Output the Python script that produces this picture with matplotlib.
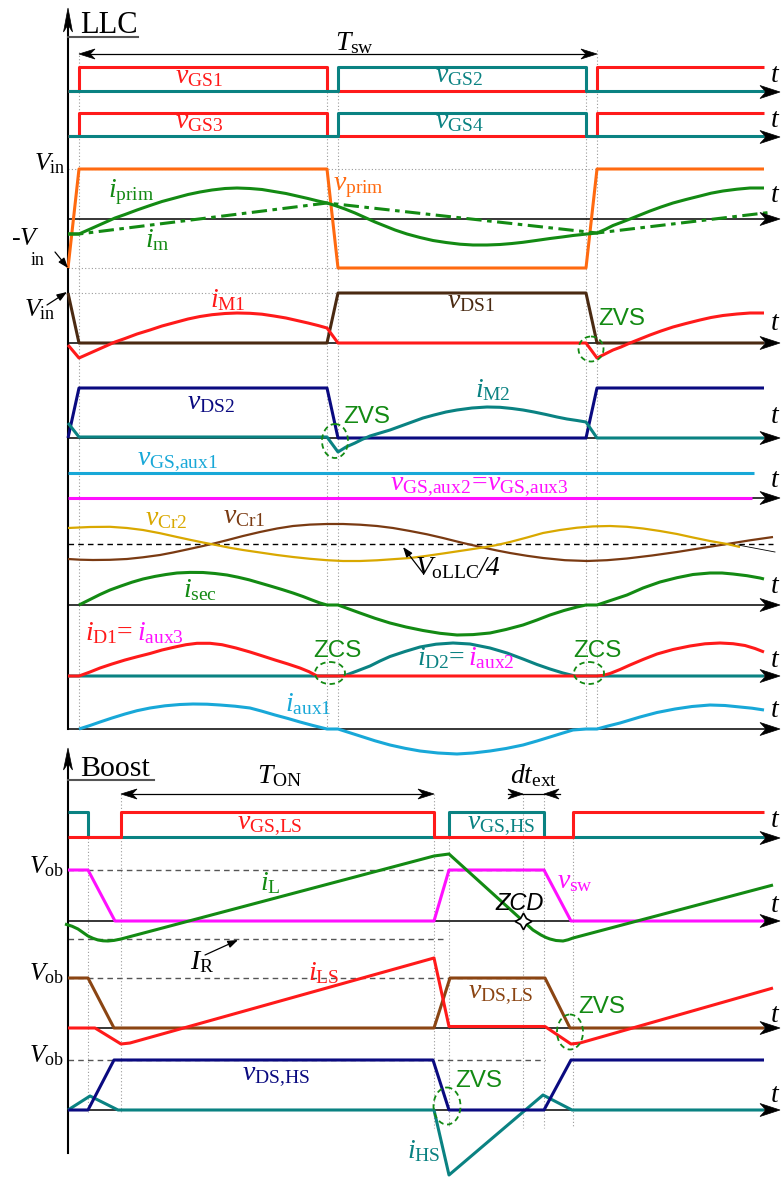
import matplotlib
matplotlib.use("Agg")
import matplotlib.pyplot as plt
from matplotlib.patches import Ellipse, Polygon

plt.rcParams["font.family"] = ["Liberation Serif", "DejaVu Serif"]
plt.rcParams["mathtext.fontset"] = "custom"
plt.rcParams["mathtext.rm"] = "Liberation Serif"
plt.rcParams["mathtext.it"] = "Liberation Serif:italic"
plt.rcParams["mathtext.bf"] = "Liberation Serif:bold"

# ---------------- colours ----------------
RED = "#ff1a1a"
TEAL = "#0a8282"
ORANGE = "#ff6a10"
GREEN = "#138a13"
DBROWN = "#4a2a12"
BROWN = "#8b4513"
CRBROWN = "#7a3a12"
NAVY = "#0a0a80"
CYAN = "#18a8d8"
MAGENTA = "#ff10ff"
GOLD = "#d9a800"

# ================= DATA (time, value above the panel's zero line) =================
# ---- LLC ----
vgs1_t = [68, 79, 79, 327, 327, 597, 597, 764]
vgs1_v = [1, 1, 25, 25, 1, 1, 25, 25]
vgs2_t = [68, 338, 338, 586, 586, 764]
vgs2_v = [1, 1, 25, 25, 1, 1]
vgs3_t = [68, 79, 79, 327, 327, 597, 597, 764]
vgs3_v = [1, 1, 24, 24, 1, 1, 24, 24]
vgs4_t = [68, 338, 338, 586, 586, 764]
vgs4_v = [1, 1, 24, 24, 1, 1]

vprim_t = [68, 79, 327, 338, 586, 597, 764]
vprim_v = [-49, 50, 50, -49, -49, 50, 50]
iprim_t = [68, 79, 88, 97, 106, 115, 125, 137, 150, 162, 175, 188, 200, 212, 225,
           237, 250, 262, 274, 286, 297, 308, 318, 327,
           335, 345, 355, 365, 375, 385, 395, 407, 420, 433, 446, 460, 473, 487,
           500, 512, 523, 536, 550, 562, 573, 585, 597,
           605, 613, 621, 630, 640, 650, 661, 673, 686, 700, 711, 723, 737, 750, 764]
iprim_v = [-15, -15, -11, -7, -3, 1, 4.5, 9, 13.5, 17.5, 21, 24.5, 27, 29, 30.5,
           31, 30.5, 29.5, 27.5, 25.5, 23, 20.5, 18, 16,
           13.5, 10, 6, 1.5, -3, -7, -11, -15, -18.5, -21.5, -23.5, -25.2, -26, -26,
           -25.5, -24.5, -23.3, -21.5, -19.5, -18, -16.5, -15.2, -14,
           -10.5, -6.5, -3.5, 0, 4, 8, 12, 16, 19.5, 23, 25.8, 28, 29.8, 31, 31]
im_t = [68, 79, 327, 597, 773]
im_v = [-15, -15, 16, -14, 7]

vds1_t = [68, 79, 327, 338, 586, 597, 764]
vds1_v = [50, 0, 0, 50, 50, 0, 0]
im1_t = [68, 79, 88, 97, 106, 115, 125, 137, 150, 162, 175, 188, 200, 212, 225,
         237, 250, 262, 274, 286, 297, 308, 318, 327, 338, 586, 597,
         605, 613, 621, 630, 640, 650, 661, 673, 686, 700, 711, 723, 737, 750, 764]
im1_v = [-2, -15, -11, -7, -3, 1, 4.5, 9, 13, 17, 20.5, 24, 26.5, 28.3, 29.5,
         30, 29.7, 28.8, 27, 25, 22.5, 20, 17.5, 15, 0, 0, -15,
         -11, -7, -4, 0, 4, 8, 12, 16, 19.5, 23, 25.5, 27.5, 29, 30, 30]

vds2_t = [68, 79, 327, 338, 586, 597, 764]
vds2_v = [0, 50, 50, 0, 0, 50, 50]
im2_t = [68, 79, 327, 338, 346, 355, 362, 370, 380, 390, 401, 412, 423, 434, 446,
         457, 472, 487, 500, 512, 523, 534, 546, 557, 567, 577, 586, 597, 764]
im2_v = [15, 1, 1, -14, -9, -5, -1.5, 2, 5, 8, 12, 16, 20, 23, 26,
         28, 30, 31, 30.7, 29.5, 28, 26, 23.5, 21, 19, 17.5, 16, 0, 0]

vgsaux1_t = [68, 754]
vgsaux1_v = [25, 25]
vgsaux23_t = [68, 752]
vgsaux23_v = [0, 0]

vcr2_t = [68, 90, 110, 127, 143, 160, 177, 190, 203, 217, 230, 243, 260, 277, 293,
          310, 327, 343, 360, 377, 393, 410, 427, 443, 463, 483, 497, 510, 527,
          543, 560, 577, 593, 610, 627, 643, 660, 677, 693, 710, 727, 740]
vcr2_v = [16, 17, 17.2, 16, 14, 10.8, 7, 4.2, 1.5, -1.2, -3.8, -6, -8.5, -11, -13,
          -14.8, -16.2, -17, -17, -16.3, -15.2, -14, -11.8, -9.5, -6.5, -3.5, -1, 2, 6.5,
          11, 14, 16.3, 17.6, 18, 17.2, 15.5, 13, 10, 6.5, 3, 0, -3]
vcr1_t = [68, 80, 93, 110, 127, 143, 160, 173, 187, 203, 215, 227, 243, 260, 277,
          293, 310, 327, 343, 360, 377, 393, 410, 427, 443, 463, 483, 497, 510,
          527, 543, 565, 587, 607, 627, 652, 677, 702, 727, 750, 773]
vcr1_v = [-15, -15.7, -16, -15.8, -15, -13.3, -11, -8.5, -5.5, -2, 0.8, 3.8, 8, 12, 15.5,
          18, 19.4, 20, 20, 19.3, 18, 16, 13, 9.7, 6, 1, -3.5, -6.5, -9,
          -11.8, -14, -16.2, -17, -16.2, -14.5, -11.5, -8, -4, 0, 3.7, 7]

isec_t = [79, 90, 100, 110, 121, 132, 143, 155, 166, 177, 190, 203, 215, 227, 238,
          249, 260, 271, 282, 293, 303, 312, 320, 327, 338, 349, 360, 375, 390,
          406, 423, 440, 457, 473, 490, 506, 523, 537, 550, 564, 577, 586, 597,
          612, 627, 643, 660, 677, 693, 710, 722, 733, 747, 760, 764]
isec_v = [0, 5.5, 10.5, 15, 19, 22.8, 26, 28.6, 30.5, 32, 32.6, 32.5, 31.5, 30, 27.8,
          25.2, 22, 18.8, 15.5, 12, 8.5, 5, 2, 0, 0, -4, -8, -13.3, -18,
          -22, -25.5, -28.3, -30, -29.6, -28, -24.5, -20, -15, -10, -5.5, -2, 0, 0,
          5, 10, 17, 23, 27.3, 30.5, 32, 32, 31, 29.3, 27, 26]

id1_t = [68, 79, 90, 100, 112, 125, 137, 150, 162, 175, 186, 197, 210, 222, 236,
         250, 262, 275, 288, 300, 309, 317, 597, 603, 610, 620, 630, 643, 657,
         673, 690, 705, 720, 733, 745, 755, 764]
id1_v = [0, 0, 4, 8, 12, 16, 19.2, 22.5, 26, 29, 31.3, 32.7, 32.7, 31.3, 28,
         24, 20.2, 16, 12, 8, 4.3, 0, 0, 0.6, 2.5, 6.5, 11, 16.5, 22,
         26.5, 30, 32.2, 33, 32.3, 30.5, 27.5, 24]
id2_t = [68, 338, 345, 357, 370, 380, 390, 405, 420, 436, 453, 470, 490, 507, 523,
         537, 550, 563, 575, 764]
id2_v = [0, 0, 0.5, 5, 10, 15, 19.5, 24.5, 29, 31.8, 33, 32, 28, 23, 17,
         11.5, 7, 3, 0, 0]

iaux1_t = [79, 90, 100, 112, 125, 137, 150, 165, 180, 193, 207, 220, 235, 250, 262,
           275, 288, 300, 313, 327, 338, 349, 360, 375, 390, 405, 420, 438, 457,
           473, 490, 506, 523, 537, 550, 562, 573, 586, 597, 608, 620, 630, 640,
           657, 675, 692, 710, 725, 740, 752, 764]
iaux1_v = [0, 3.5, 7, 11, 15, 18.3, 21, 23.2, 24.5, 25, 24.8, 24, 22.8, 21, 17.8,
           14, 10.5, 7, 3.5, 0, 0, -3.5, -7, -11.8, -16, -19.3, -22, -24, -25,
           -24, -22, -19.5, -16, -12, -8, -4.3, -1, 0, 0, 3, 6, 9, 12,
           16.5, 20, 22.5, 24, 23.5, 22, 20.8, 19]

# ---- Boost ----
vgsls_t = [68, 121, 121, 434, 434, 573, 573, 764]
vgsls_v = [1, 1, 26, 26, 1, 1, 26, 26]
vgshs_t = [68, 88, 88, 449, 449, 544, 544, 764]
vgshs_v = [26, 26, 1, 1, 26, 26, 1, 1]

vsw_t = [68, 88, 115, 434, 449, 544, 571, 764]
vsw_v = [51, 51, 0, 0, 51, 51, 0, 0]
il_t = [65, 72, 78, 83, 88, 93, 98, 103, 108, 114, 121, 434, 449, 523, 533, 541,
        546, 550, 556, 563, 568, 573, 773]
il_v = [-3, -5.2, -8, -11.5, -15, -17.3, -19, -19.8, -20, -19.4, -18, 65, 67, 0, -9, -14,
        -16.5, -18, -19.5, -20, -18.8, -17, 36]

vdsls_t = [68, 88, 114, 434, 450, 545, 570, 764]
vdsls_v = [50, 50, 0, 0, 50, 50, 0, 0]
ils_t = [68, 95, 121, 130, 434, 449, 545, 571, 580, 773]
ils_v = [0, 0, -16, -15, 70, 1.5, 1.5, -16, -15, 40]

vdshs_t = [68, 88, 114, 433, 449, 544, 571, 764]
vdshs_v = [0, 0, 50, 50, 0, 0, 50, 50]
ihs_t = [68, 90, 118, 434, 449, 543, 572, 764]
ihs_v = [0, 14, 0, 0, -65, 15, 0, 0]

# ================= LAYOUT =================
BASE = dict(g12=92, g34=137, prim=219, m1=343, m2=438, aux=498, cr=544,
            sec=605, d=676, aux1=729, bg=838, sw=921, ls=1028, hs=1110)

fig = plt.figure(figsize=(7.81, 11.78), dpi=100)
ax = fig.add_axes([0, 0, 1, 1])
ax.set_xlim(0, 781)
ax.set_ylim(1178, 0)
ax.axis("off")


def trace(t, v, base, color, lw=2.2, z=3, **kw):
    ax.plot(t, [base - x for x in v], color=color, lw=lw, zorder=z,
            solid_joinstyle="round", solid_capstyle="butt", **kw)


def head(tx, ty, dx, dy, L=20, W=6.5, color="k"):
    nx, ny = -dy, dx
    pts = [(tx, ty),
           (tx - L * dx + W * nx, ty - L * dy + W * ny),
           (tx - 0.7 * L * dx, ty - 0.7 * L * dy),
           (tx - L * dx - W * nx, ty - L * dy - W * ny)]
    ax.add_patch(Polygon(pts, closed=True, fc=color, ec=color, lw=0.5, zorder=6))


def haxis(y):
    ax.plot([68, 768], [y, y], color="k", lw=1.1, zorder=2)
    head(780, y, 1, 0)


def lab(x, y, s, color="k", size=20, ha="left", **kw):
    ax.text(x, y, s, color=color, fontsize=size, ha=ha, va="baseline", zorder=7, **kw)


dot = dict(color="#9a9a9a", lw=0.8, ls=(0, (1, 2)), zorder=1)
dash = dict(color="#555555", lw=1.0, ls=(0, (4, 3)), zorder=1)

# guides LLC
for x, y0 in [(79, 52), (327, 92), (338, 92), (586, 92), (597, 50)]:
    ax.plot([x, x], [y0, 729], **dot)
ax.plot([68, 597], [169, 169], **dot)
ax.plot([68, 338], [268, 268], **dot)
ax.plot([68, 338], [293, 293], **dot)
# guides Boost
for x, y0, y1 in [(88, 838, 1112), (121, 794, 1112), (434, 794, 1128), (449, 838, 1128),
                  (523, 794, 1128), (544, 794, 1128), (573, 838, 1128)]:
    ax.plot([x, x], [y0, y1], **dot)
ax.plot([68, 545], [870, 870], **dash)
ax.plot([68, 445], [939, 939], **dash)
ax.plot([68, 545], [978, 978], **dash)
ax.plot([68, 545], [1060, 1060], **dash)

# axes
ax.plot([68, 68], [729, 24], color="k", lw=1.5, zorder=2)
head(68, 8, 0, -1, L=24, W=4.5)
ax.plot([68, 68], [1153, 762], color="k", lw=1.5, zorder=2)
head(68, 748, 0, -1, L=22, W=4.5)
for key in ["g12", "g34", "prim", "m1", "m2", "aux", "sec", "d", "aux1", "bg", "sw", "ls", "hs"]:
    haxis(BASE[key])
ax.plot([68, 773], [BASE["cr"], BASE["cr"]], color="k", lw=1.0, ls=(0, (4, 3)), zorder=2)
ax.plot([738, 775], [545, 552], color="k", lw=0.6, zorder=2)

# underlines
ax.plot([68, 138], [37, 37], color="#555555", lw=1.5, zorder=2)
ax.plot([68, 154], [780, 780], color="#555555", lw=1.5, zorder=2)

# time spans
ax.plot([85, 591], [54, 54], color="k", lw=0.9, zorder=2)
head(79, 54, -1, 0, L=16, W=5)
head(597, 54, 1, 0, L=16, W=5)
ax.plot([127, 428], [794, 794], color="k", lw=0.9, zorder=2)
head(121, 794, -1, 0, L=16, W=5)
head(434, 794, 1, 0, L=16, W=5)
ax.plot([508, 560], [794, 794], color="k", lw=0.9, zorder=2)
head(523, 794, 1, 0, L=15, W=5)
head(544, 794, -1, 0, L=15, W=5)

# ---- traces LLC ----
trace(vgs1_t, vgs1_v, BASE["g12"], RED)
trace(vgs2_t, vgs2_v, BASE["g12"], TEAL)
trace(vgs3_t, vgs3_v, BASE["g34"], RED)
trace(vgs4_t, vgs4_v, BASE["g34"], TEAL)
trace(vprim_t, vprim_v, BASE["prim"], ORANGE)
trace(im_t, im_v, BASE["prim"], GREEN, ls=(0, (5, 1.8, 1.5, 1.8)))
trace(iprim_t, iprim_v, BASE["prim"], GREEN)
trace(vds1_t, vds1_v, BASE["m1"], DBROWN)
trace(im1_t, im1_v, BASE["m1"], RED)
trace(vds2_t, vds2_v, BASE["m2"], NAVY)
trace(im2_t, im2_v, BASE["m2"], TEAL)
trace(vgsaux1_t, vgsaux1_v, BASE["aux"], CYAN)
trace(vgsaux23_t, vgsaux23_v, BASE["aux"], MAGENTA)
trace(vcr1_t, vcr1_v, BASE["cr"], CRBROWN, lw=1.6)
trace(vcr2_t, vcr2_v, BASE["cr"], GOLD, lw=1.6)
trace(isec_t, isec_v, BASE["sec"], GREEN)
trace(id2_t, id2_v, BASE["d"], TEAL)
trace(id1_t, id1_v, BASE["d"], RED)
trace(iaux1_t, iaux1_v, BASE["aux1"], CYAN)

# ---- traces Boost ----
trace(vgshs_t, vgshs_v, BASE["bg"], TEAL)
trace(vgsls_t, vgsls_v, BASE["bg"], RED)
trace(vsw_t, vsw_v, BASE["sw"], MAGENTA)
trace(il_t, il_v, BASE["sw"], GREEN)
trace(vdsls_t, vdsls_v, BASE["ls"], BROWN)
trace(ils_t, ils_v, BASE["ls"], RED)
trace(ihs_t, ihs_v, BASE["hs"], TEAL)
trace(vdshs_t, vdshs_v, BASE["hs"], NAVY)

# ZVS / ZCS circles
for cx, cy, w, h in [(591, 349, 25, 25), (335, 441, 26, 34), (330, 673, 30, 22),
                     (589, 673, 30, 22), (570, 1032, 26, 35), (447, 1106, 27, 37)]:
    ax.add_patch(Ellipse((cx, cy), w, h, fill=False, ec=GREEN, lw=1.3,
                         ls=(0, (3, 2)), zorder=6))
# ZCD star
ax.plot([523], [921], marker=(4, 1, 0), ms=12, mfc="white", mec="k", mew=1.2, zorder=8)

# pointer arrows
for tail, tip in [((55, 252), (68, 268)), ((47, 305), (67, 292)),
                  ((423, 573), (403, 547)), ((205, 955), (238, 940))]:
    ax.annotate("", xy=tip, xytext=tail,
                arrowprops=dict(arrowstyle="-|>,head_length=0.6,head_width=0.22",
                                lw=0.9, color="k", shrinkA=0, shrinkB=0), zorder=7)

# ---- labels ----
sans = dict(family="Liberation Sans")
lab(80, 33, "LLC", "k", 22)
lab(335, 50, r"$T_{\mathrm{sw}}$", "k")
lab(175, 83, r"$v_{\mathrm{GS1}}$", RED)
lab(435, 82, r"$v_{\mathrm{GS2}}$", TEAL)
lab(175, 128, r"$v_{\mathrm{GS3}}$", RED)
lab(435, 128, r"$v_{\mathrm{GS4}}$", TEAL)
lab(65, 170, r"$V_{\mathrm{in}}$", "k", 18.5, ha="right")
lab(11, 245, r"-$V$", "k", 18.5)
lab(31, 265, "in", "k", 13)
lab(108, 197, r"$i_{\mathrm{prim}}$", GREEN)
lab(145, 247, r"$i_{\mathrm{m}}$", GREEN)
lab(333, 190, r"$v_{\mathrm{prim}}$", ORANGE)
lab(55, 316, r"$V_{\mathrm{in}}$", "k", 18.5, ha="right")
lab(210, 307, r"$i_{\mathrm{M1}}$", RED)
lab(447, 308, r"$v_{\mathrm{DS1}}$", DBROWN)
lab(598, 325, "ZVS", GREEN, 17.5, **sans)
lab(187, 409, r"$v_{\mathrm{DS2}}$", NAVY)
lab(475, 397, r"$i_{\mathrm{M2}}$", TEAL)
lab(343, 423, "ZVS", GREEN, 17.5, **sans)
lab(137, 465, r"$v_{\mathrm{GS{,}aux1}}$", CYAN)
lab(390, 490, r"$v_{\mathrm{GS{,}aux2}}\!=\!v_{\mathrm{GS{,}aux3}}$", MAGENTA)
lab(145, 525, r"$v_{\mathrm{Cr2}}$", GOLD)
lab(223, 523, r"$v_{\mathrm{Cr1}}$", CRBROWN)
lab(415, 575, r"$V_{\mathrm{oLLC}}$", "k")
lab(478, 575, "/4", "k", 20, style="italic")
lab(183, 597, r"$i_{\mathrm{sec}}$", GREEN)
lab(85, 640, r"$i_{\mathrm{D1}}$", RED)
lab(117, 640, "=", RED)
lab(137, 640, r"$i_{\mathrm{aux3}}$", MAGENTA)
lab(417, 665, r"$i_{\mathrm{D2}}$", TEAL)
lab(449, 665, "=", TEAL)
lab(468, 665, r"$i_{\mathrm{aux2}}$", MAGENTA)
lab(313, 657, "ZCS", GREEN, 17.5, **sans)
lab(573, 657, "ZCS", GREEN, 17.5, **sans)
lab(285, 711, r"$i_{\mathrm{aux1}}$", CYAN)

lab(80, 776, "Boost", "k", 21.5)
lab(257, 783, r"$T_{\mathrm{ON}}$", "k")
lab(510, 783, r"$dt_{\mathrm{ext}}$", "k")
lab(237, 829, r"$v_{\mathrm{GS{,}LS}}$", RED)
lab(467, 829, r"$v_{\mathrm{GS{,}HS}}$", TEAL)
for yb in [873, 980, 1062]:
    lab(64, yb, r"$V_{\mathrm{ob}}$", "k", 18.5, ha="right")
lab(260, 890, r"$i_{\mathrm{L}}$", GREEN)
lab(557, 888, r"$v_{\mathrm{sw}}$", MAGENTA)
lab(495, 910, "ZCD", "k", 17, family="Liberation Sans", style="italic")
lab(190, 969, r"$I_{\mathrm{R}}$", "k")
lab(308, 980, r"$i_{\mathrm{LS}}$", RED)
lab(468, 998, r"$v_{\mathrm{DS{,}LS}}$", BROWN)
lab(578, 1013, "ZVS", GREEN, 17.5, **sans)
lab(242, 1080, r"$v_{\mathrm{DS{,}HS}}$", NAVY)
lab(455, 1087, "ZVS", GREEN, 17.5, **sans)
lab(407, 1158, r"$i_{\mathrm{HS}}$", TEAL)

for yb in [82, 127, 202, 330, 423, 487, 593, 667, 717, 827, 912, 1022, 1102]:
    lab(770, yb, r"$t$", "k", 20)

fig.savefig("out.png", dpi=100)
